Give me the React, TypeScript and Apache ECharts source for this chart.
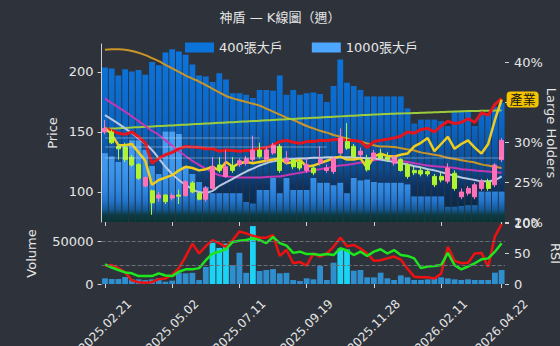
import React, { useEffect, useRef } from 'react';
import * as echarts from 'echarts';

const BG = '#2e333b';
const FONT = '"DejaVu Sans", "Noto Sans CJK TC", sans-serif';

const dates = [
  '2025.02.21','2025.02.28','2025.03.07','2025.03.14','2025.03.21','2025.03.28','2025.04.03','2025.04.11','2025.04.18','2025.04.25',
  '2025.05.02','2025.05.09','2025.05.16','2025.05.23','2025.05.30','2025.06.06','2025.06.13','2025.06.20','2025.06.27','2025.07.04',
  '2025.07.11','2025.07.18','2025.07.25','2025.08.01','2025.08.08','2025.08.15','2025.08.22','2025.08.29','2025.09.05','2025.09.12',
  '2025.09.19','2025.09.26','2025.10.03','2025.10.09','2025.10.17','2025.10.24','2025.10.31','2025.11.07','2025.11.14','2025.11.21',
  '2025.11.28','2025.12.05','2025.12.12','2025.12.19','2025.12.26','2026.01.09','2026.01.16','2026.01.23','2026.01.30','2026.02.06',
  '2026.02.11','2026.02.26','2026.03.06','2026.03.13','2026.03.20','2026.03.27','2026.04.02','2026.04.10','2026.04.17','2026.04.22',
];

// [open, close, low, high]
const candles = [
  [150,153,148,160],[150,141,140,152],[138,136,127,140],[137,127,125,141],[129,122.5,121,131],
  [123,111.5,110,124],[105,112,104,113],[101,91,81,102],[95,97.5,92,100],[97.5,92,90,98],
  [95,97,93,99],[97.5,96.5,90,102],[97,108.5,96,110],[107.5,100,99,109],[99,94,93,100],
  [94,103,92,105],[103,121,102,129],[122.5,118,116,129],[113,121,112,135],[122,118,116,129],
  [123,126,121,128],[124,128,122,130],[127,135,125,147],[135,129.5,128,141],[127,135,125,137],
  [132.5,139,131,141],[138,118,116,140],[125,128,123,134],[126.7,121,119,128],[125,120,118,127],
  [118,123,116,128],[120,116,114,122],[124,127,122,138],[118,120,116,123],[117,128,115,130],
  [132.5,145,131,153],[142,136.5,135,157.5],[138,129.5,128,140],[131,134,129,137],[127,118.5,117,131],
  [128,132.5,126,135],[131,128,127,136],[129,127,125,133],[124,129,122,131],[127,118,117,128],
  [122.5,113,111,124],[118,116,114,121],[118,115,113,121],[117,115,113,119],[113,106,104,115],
  [113,110,108,116],[109,120,107,124],[115.6,103,101,118],[96,100,94,103],[99,103,97,105],
  [96,106,94,108],[103,108.6,101,111],[108.6,103,101,111],[106,122.5,104,124],[127,143,125,145],
];

const holders400 = [
  39.3,39.2,38.3,39.1,38.8,39.0,38.4,40.0,39.6,41.2,
  41.6,41.3,40.9,39.7,38.3,38.2,37.5,38.6,37.8,36.1,
  36.1,35.9,35.5,36.5,36.5,36.4,38.3,35.9,36.5,35.9,
  36.1,36.2,36.0,35.0,37.0,40.3,37.4,37.0,36.5,35.7,
  35.7,35.7,35.7,35.7,35.7,34.2,32.3,32.8,32.8,32.8,
  32.6,32.0,33.8,33.8,33.8,32.0,33.6,33.6,34.4,34.9,
];
const holders1000 = [
  28.6,28.2,27.5,29.5,30.2,30.2,29.0,27.0,26.0,31.3,
  31.3,31.0,27.0,26.0,25.0,24.4,23.6,23.6,23.6,23.6,
  23.6,22.5,22.3,24.0,24.0,25.5,23.6,25.5,24.0,24.0,
  24.0,25.5,24.9,24.9,24.6,24.9,23.6,25.5,25.2,25.3,
  25.0,24.9,24.9,24.9,24.9,24.7,23.2,23.2,23.2,23.2,
  23.2,21.9,21.9,22.0,22.1,22.1,23.8,23.8,23.8,23.8,
];

const goldLine = [
  218.5,219,219,218.5,217.5,216,214,211.5,209,206,203,200,197,194.5,192,189,186,183,180,178,
  176.5,175,173.5,172,169.5,167,164.5,162,160,157.5,155,153,151,149.5,147.5,146,144.5,143,142,140.5,
  139,138,137.8,137.5,136.5,135.5,134.5,133,132,131,130,128.5,127.5,126.5,125.5,124.5,123,122,121,120,
];
const limeLine = [
  152.5,152.8,153.1,153.4,153.7,154,154.3,154.6,154.9,155.2,155.5,155.8,156.1,156.4,156.7,157,157.3,157.6,157.9,158.2,
  158.5,158.8,159.1,159.4,159.7,160,160.3,160.6,160.9,161.2,161.5,161.8,162.1,162.4,162.7,163,163.3,163.6,163.9,164.2,
  164.5,164.8,165,165.2,165.4,165.6,165.8,166,166.2,166.4,166.6,166.8,167,167.2,167.4,167.5,167.6,167.7,167.8,168,
];
const magentaLine = [
  178,174,170.5,167,163,159,155,151,147.5,143,138.5,134,130,126,122.5,119.5,116.5,114,113,112.5,
  112,112,112,112,112.5,112.8,113,114,115,116,117,118,119,120,121,122,122.5,123.5,124.5,125.5,
  126.5,127,127,126.5,126,125,124,123,122,121.5,121,120.5,120,119,118.5,118,117.5,117,116.5,116,
];
const silverLine = [
  164,160.5,157,153,149,144.5,140,135,128,121,115,110,106,102.5,100,99.5,101,105,108,111,
  114,117,119.5,122,124,125.5,126.5,127,127.5,128,128,128.5,128.5,129,129,129,129,128.8,128.5,128.2,
  128,127,126,125,124,123,121.5,120.5,119,118,116.5,115,113.5,112,111,110,109,109,110,113,
];
const redLine = [
  153,151,149,148,150,146,141,124,128,131,133,136,138,137.5,137,136,136,134,135,134.5,
  134,134.5,135,136,137,139,142,143,141.5,140.5,142,142,143,143,143.5,144,143,143,142,137,
  142,143,144,145,146.5,150,149,152,153,150,155,159,157,158,161,158,166,164,173,178,
];
const yellowLine = [
  153.5,148,139,139,140,133,126,106,110,112,114,118,121,120,118,119,121,118,125,121,
  124,125,124,125,126,127,128,124,125,127,121,122,124,126,128,129.5,127,127,128,120,
  129.5,132,130,129.5,131,132,138,141,145,134,140,146,136,140,143,137,132,140,160,177,
];

// faint horizontal price levels: [price, fromIndex, toIndex]
const levels = [
  [145, 0, 23],
  [137.5, 0, 33],
  [128.5, 0, 59],
];

const volume = [
  6600,5800,5800,8200,5400,5400,4600,5400,7000,2700,
  3900,13000,12400,13000,4600,19800,48000,42000,47000,22000,
  36400,13000,67400,15100,16300,17400,12400,13000,4600,3500,
  6600,5400,21000,4650,24800,41500,40300,15500,16300,7750,
  7750,13200,6600,4650,10000,7750,4650,4650,5400,6600,
  7750,6600,5400,4650,5400,4650,4650,4650,13200,16300,
];
const rsi = [
  30,31,26,19,6,3,2,3,8,9,15,26,45,66,50,62,72,67,61,72,
  86,83,79,76,76,80,46,56,34,36,30,50,45,50,61,76,62,64,58,50,
  38,39,42,45,40,25,12,11,11,9,17,61,38,34,35,50,51,28,78,98,
];
const rsiMa = [
  32,27,23,19,17.5,13,13,13,17.5,14,13,20,24,24,26,39,50,53,57,69,
  71,72,75,72,67,77,67,63,51,53,49,49,47.5,49,47.5,58.5,55,47.5,53,46,
  53,57,50,55.7,47.5,46,42,26,28.7,29.5,31,51,31,24,28.7,34,40.4,42,53,66.7,
];

const tickShow = (i: number) => i % 10 === 0 || i === dates.length - 1;

function buildOption(): any {
  const axisText = { color: '#e6e6e6', fontSize: 13, fontFamily: FONT };
  const tickStyle = { show: true, length: 4, lineStyle: { color: '#d0d0d0' } };
  const grad = (stops: [number, string][]) => ({
    type: 'linear', x: 0, y: 44, x2: 0, y2: 222, global: true,
    colorStops: stops.map(([offset, color]) => ({ offset, color })),
  });
  const c400 = grad([[0, '#0d77e0'], [0.45, '#0a66c6'], [0.7, '#0c4c90'], [0.8, '#0d3262'], [0.9, '#0b2b4a'], [0.95, '#0a3a3e'], [1, '#093334']]);
  const c1000 = grad([[0, '#5ab0ff'], [0.45, '#4aa2f4'], [0.7, '#3d96ec'], [0.82, '#2f86e0'], [0.88, '#2374cc'], [0.93, '#155a98'], [0.96, '#0b3b45'], [1, '#093334']]);
  const line = (data: number[], color: string, width: number, extra: any = {}) => ({
    type: 'line', xAxisIndex: 0, yAxisIndex: 0, data, symbol: 'none', silent: true, z: 3,
    lineStyle: { color, width }, ...extra,
  });
  return {
    animation: false,
    backgroundColor: BG,
    textStyle: { fontFamily: FONT },
    title: {
      text: '神盾 — K線圖（週）', left: 'center', top: 6,
      textStyle: { color: '#e6e6e6', fontSize: 13, fontWeight: 'normal', fontFamily: FONT },
    },
    legend: {
      left: 180, top: 36, itemWidth: 29, itemHeight: 10, itemGap: 29,
      textStyle: { color: '#e6e6e6', fontSize: 13, fontFamily: FONT },
      data: [
        { name: '400張大戶', icon: 'rect', itemStyle: { color: '#0a74da' } },
        { name: '1000張大戶', icon: 'rect', itemStyle: { color: '#4da6ff' } },
      ],
    },
    grid: [
      { left: 101.6, right: 55, top: 44, height: 178, outerBoundsMode: 'none', containLabel: false },
      { left: 101.6, right: 55, top: 223, height: 61, outerBoundsMode: 'none', containLabel: false },
    ],
    xAxis: [
      {
        type: 'category', gridIndex: 0, data: dates, boundaryGap: true,
        axisLine: { show: false }, axisLabel: { show: false },
        axisTick: { ...tickStyle, alignWithLabel: true, interval: tickShow },
        splitLine: { show: false },
      },
      {
        type: 'category', gridIndex: 1, data: dates, boundaryGap: true,
        axisLine: { show: false },
        axisTick: { ...tickStyle, alignWithLabel: true, interval: tickShow },
        axisLabel: { ...axisText, fontSize: 12, rotate: 45, interval: tickShow, align: 'center', verticalAlign: 'middle', margin: 42 },
        splitLine: { show: false },
      },
    ],
    yAxis: [
      {
        type: 'value', gridIndex: 0, min: 75, max: 223.3, splitNumber: 3, position: 'left',
        name: 'Price', nameLocation: 'middle', nameGap: 43, nameMoveOverlap: false, nameTextStyle: { ...axisText },
        axisLine: { show: true, lineStyle: { color: '#cfcfcf' } }, axisTick: tickStyle,
        axisLabel: { ...axisText, margin: 8, showMinLabel: false, showMaxLabel: false },
        splitLine: { show: false },
      },
      {
        type: 'value', gridIndex: 0, min: 20, max: 42.25, interval: 5, position: 'right',
        name: 'Large Holders', nameLocation: 'middle', nameGap: 40, nameRotate: -90, nameMoveOverlap: false,
        nameTextStyle: { ...axisText },
        axisLine: { show: false }, axisTick: tickStyle,
        axisLabel: { ...axisText, margin: 9, showMaxLabel: false, formatter: (v: number) => (v === 35 ? '' : v + '%') },
        splitLine: { show: false },
      },
      {
        type: 'value', gridIndex: 1, min: 0, max: 71000, interval: 50000, position: 'left',
        name: 'Volume', nameLocation: 'middle', nameGap: 64, nameMoveOverlap: false, nameTextStyle: { ...axisText },
        axisLine: { show: false }, axisTick: tickStyle,
        axisLabel: { ...axisText, margin: 8, showMaxLabel: false, formatter: (v: number) => String(v) },
        splitLine: { show: false },
      },
      {
        type: 'value', gridIndex: 1, min: 0, max: 100, interval: 50, position: 'right',
        name: 'RSI', nameLocation: 'middle', nameGap: 44, nameRotate: -90, nameMoveOverlap: false,
        nameTextStyle: { ...axisText },
        axisLine: { show: false }, axisTick: tickStyle,
        axisLabel: { ...axisText, margin: 9 },
        splitLine: { show: false },
      },
    ],
    series: [
      {
        name: '400張大戶', type: 'bar', xAxisIndex: 0, yAxisIndex: 1, data: holders400,
        barCategoryGap: '14%', barGap: '-100%', itemStyle: { color: c400 }, silent: true, z: 1,
      },
      {
        name: '1000張大戶', type: 'bar', xAxisIndex: 0, yAxisIndex: 1, data: holders1000,
        barCategoryGap: '14%', barGap: '-100%', itemStyle: { color: c1000 }, silent: true, z: 1,
      },
      {
        type: 'line', xAxisIndex: 0, yAxisIndex: 0, data: [], silent: true, symbol: 'none',
        markLine: {
          silent: true, symbol: 'none', label: { show: false },
          lineStyle: { color: 'rgba(225,232,245,0.28)', type: 'solid', width: 1.5 },
          data: levels.map(([p, a, b]) => [
            { coord: [a, p] },
            { coord: [b, p] },
          ]),
        },
      },
      line(goldLine, '#c99527', 2, { smooth: true }),
      line(limeLine, '#9ccc3c', 2, { smooth: true }),
      line(magentaLine, '#c437b4', 2, { smooth: true }),
      line(silverLine, '#b8c8e0', 2, { smooth: true }),
      line(redLine, '#e3151e', 3),
      line(yellowLine, '#f0cc1c', 2.5, {
        endLabel: {
          show: true, formatter: '產業', color: '#111', fontSize: 13, fontFamily: FONT,
          backgroundColor: '#f5c400', borderRadius: 4, padding: [2, 3, 1, 3], distance: 5,
        },
      }),
      {
        type: 'candlestick', xAxisIndex: 0, yAxisIndex: 0, data: candles, barWidth: 4.5, silent: true, z: 4,
        itemStyle: { color: '#ff72ba', color0: '#adf531', borderColor: '#ff72ba', borderColor0: '#adf531', borderWidth: 1 },
      },
      {
        type: 'bar', xAxisIndex: 1, yAxisIndex: 2, barCategoryGap: '14%', silent: true,
        data: volume.map((v) => ({ value: v, itemStyle: { color: v > 38000 ? '#1ad3f5' : '#2f8fce' } })),
      },
      {
        type: 'line', xAxisIndex: 1, yAxisIndex: 3, data: rsi, symbol: 'none', silent: true,
        lineStyle: { color: '#ee1111', width: 2.5 }, z: 3,
        markLine: {
          silent: true, symbol: 'none', label: { show: false },
          lineStyle: { color: '#6b7078', type: 'dashed', width: 1 },
          data: [{ yAxis: 70 }, { yAxis: 30 }],
        },
      },
      {
        type: 'line', xAxisIndex: 1, yAxisIndex: 3, data: rsiMa, symbol: 'none', silent: true,
        lineStyle: { color: '#1ee61e', width: 2.5 }, z: 4,
      },
    ],
  };
}

export default function App() {
  const ref = useRef<HTMLDivElement>(null);
  useEffect(() => {
    document.body.style.margin = '0';
    document.body.style.background = BG;
    const chart = echarts.init(ref.current as HTMLDivElement, null, { renderer: 'svg' });
    chart.setOption(buildOption());
    return () => chart.dispose();
  }, []);
  return <div ref={ref} style={{ width: 560, height: 346, background: BG }} />;
}
